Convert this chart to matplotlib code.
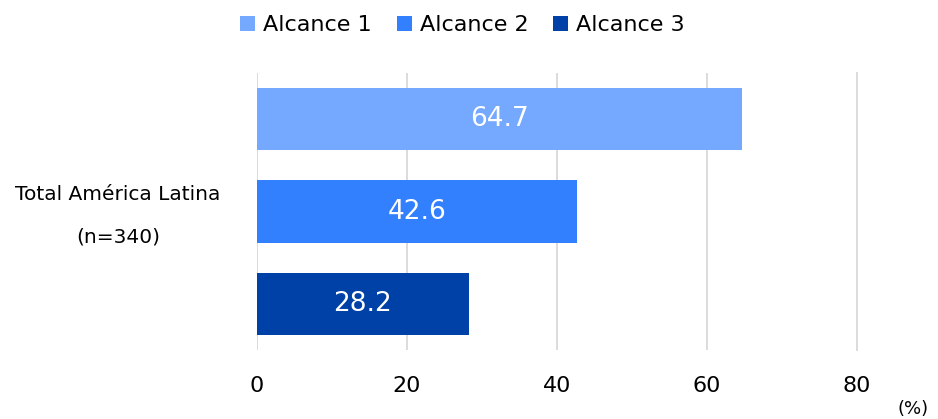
import numpy as np
import matplotlib.pyplot as plt

plt.rcParams['font.family'] = ['DejaVu Sans']

# Datos
series = ["Alcance 1", "Alcance 2", "Alcance 3"]
valores = [64.7, 42.6, 28.2]
colores = ["#75A8FF", "#3380FF", "#0041A8"]
categoria = "Total América Latina\n(n=340)"
xticks = [0, 20, 40, 60, 80]

fig = plt.figure(figsize=(9.38, 4.19), dpi=100)
ax = fig.add_axes([257/938, 1 - 350/419, 600/938, 277/419])

pos = np.arange(len(series))
barras = ax.barh(pos, valores, height=0.674, color=colores, label=series, zorder=2)

for b, v in zip(barras, valores):
    ax.text(v / 2, b.get_y() + b.get_height() / 2, f"{v:.1f}",
            ha='center', va='center', color='white', fontsize=19, zorder=3)

ax.set_xlim(0, 80)
ax.set_ylim(2.5, -0.5)
ax.set_xticks(xticks)
ax.set_xticklabels([str(t) for t in xticks], fontsize=16)
ax.tick_params(axis='x', length=0, pad=19)
ax.grid(axis='x', color='#D9D9D9', linewidth=1.3, zorder=0)
ax.xaxis.get_gridlines()[-1].set_clip_on(False)

ax.set_yticks([0.9])
ax.set_yticklabels([categoria], fontsize=14.5, ha='center', linespacing=2.55)
ax.tick_params(axis='y', length=0, pad=100)

for s in ax.spines.values():
    s.set_visible(False)

fig.legend(handles=barras.patches, labels=series, loc='center',
           bbox_to_anchor=(0.493, 1 - 25/419), ncol=3, frameon=False, fontsize=16,
           handlelength=0.68, handleheight=0.68, handletextpad=0.36,
           columnspacing=1.1)

fig.text(913/938, 1 - 409/419, "(%)", ha='center', va='center', fontsize=13)

fig.savefig("out.png", dpi=100)
